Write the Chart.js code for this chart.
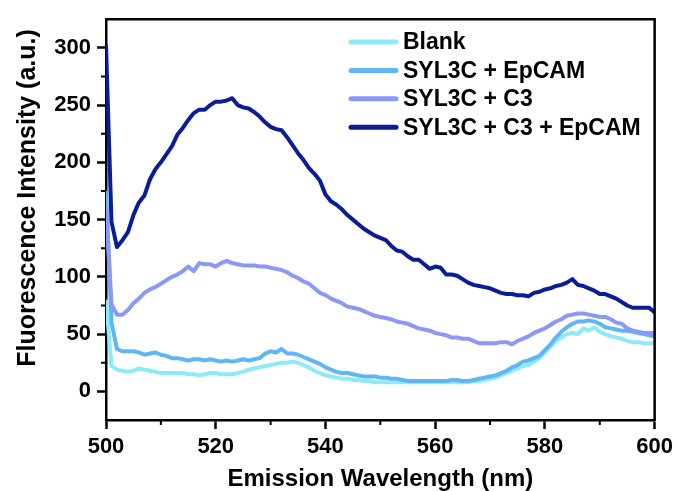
<!DOCTYPE html>
<html><head><meta charset="utf-8">
<script src="https://cdn.jsdelivr.net/npm/chart.js@4"></script>
<style>html,body{margin:0;padding:0;background:#fff}#wrap{width:678px;height:491px}</style>
</head><body><div id="wrap"><canvas id="c" width="678" height="491"></canvas></div>
<script>
const wavelengths = [500,501,502,503,504,505,506,507,508,509,510,511,512,513,514,515,516,517,518,519,520,521,522,523,524,525,526,527,528,529,530,531,532,533,534,535,536,537,538,539,540,541,542,543,544,545,546,547,548,549,550,551,552,553,554,555,556,557,558,559,560,561,562,563,564,565,566,567,568,569,570,571,572,573,574,575,576,577,578,579,580,581,582,583,584,585,586,587,588,589,590,591,592,593,594,595,596,597,598,599,600];
const blank = [80,22,19,18,17,18,20,19,18,17,16,16,16,16,16,15,15,14,15,16,16,15,15,15,16,17,19,20,21,22,23,24,25,25,26,25,23,21,18,16,14,13,12,11,11,10,10,9,9,8,8,8,8,8,8,8,8,8,8,8,8,8,8,8,8,8,8,9,9,10,11,12,14,16,18,20,22,23,26,29,34,39,44,47,50,51,50,55,53,56,52,50,48,47,46,44,43,43,42,42,42];
const syl3cEpcam = [175,60,37,35,35,35,34,32,33,34,32,31,29,29,28,27,28,28,27,28,27,26,27,26,27,28,27,28,29,33,35,34,37,33,33,32,30,28,26,24,21,19,17,16,16,15,14,13,13,13,12,12,11,11,10,9,9,9,9,9,9,9,9,10,10,9,9,10,11,12,13,14,16,18,21,23,26,27,29,31,36,41,47,52,56,59,61,61,62,61,59,56,55,54,53,53,52,51,50,49,48];
const syl3cC3 = [165,76,67,67,71,77,81,86,89,91,94,97,100,102,105,109,105,112,111,111,109,112,114,112,111,110,110,110,109,109,108,107,106,104,101,99,96,94,90,86,84,81,79,77,74,73,72,70,68,66,65,64,63,61,60,59,57,55,54,53,51,50,49,47,47,46,46,44,42,42,42,42,43,43,41,44,46,48,51,53,55,58,61,63,66,67,68,68,67,66,65,65,63,60,59,55,53,52,51,51,51];
const syl3cC3Epcam = [303,148,126,132,139,154,165,171,185,194,200,207,214,224,230,237,243,246,246,250,253,253,254,256,250,248,247,244,240,235,231,229,228,222,215,208,202,195,190,184,172,166,163,159,154,150,146,142,139,136,134,132,127,123,122,118,115,115,111,107,109,108,102,102,101,98,95,93,92,91,90,88,86,85,85,84,84,83,86,87,89,90,92,93,95,98,93,92,90,88,85,85,83,81,78,75,73,73,73,73,69];
const seriesNames = ['Blank','SYL3C + EpCAM','SYL3C + C3','SYL3C + C3 + EpCAM'];
const seriesColors = ['#8EE9FA','#5EB6F4','#8B98F6','#0B1C99'];
const xMajorTicks = [500,520,540,560,580,600];
const xMinorTicks = [510,530,550,570,590];
const yMajorTicks = [0,50,100,150,200,250,300];
const yMinorTicks = [25,75,125,175,225,275];
const xTitle = 'Emission Wavelength (nm)';
const yTitle = 'Fluorescence Intensity (a.u.)';

const FONT = '"Liberation Sans", Arial, sans-serif';
const allSeries = [blank, syl3cEpcam, syl3cC3, syl3cC3Epcam];
const datasets = allSeries.map((s, i) => ({
  label: seriesNames[i],
  data: s.map((v, j) => ({x: wavelengths[j], y: v})),
  borderColor: seriesColors[i],
  backgroundColor: seriesColors[i],
  borderWidth: 4,
  pointRadius: 0,
  tension: 0,
  fill: false,
  borderJoinStyle: 'round',
  order: 3 - i
}));

const decor = {
  id: 'decor',
  afterDraw(chart) {
    const {ctx, chartArea: a, scales: {x, y}} = chart;
    ctx.save();
    ctx.strokeStyle = '#000';
    ctx.lineWidth = 2.5;
    ctx.beginPath();
    ctx.moveTo(a.left - 1, a.top);
    ctx.lineTo(a.right, a.top);
    ctx.lineTo(a.right, a.bottom + 1);
    ctx.stroke();
    ctx.lineWidth = 2;
    ctx.beginPath();
    xMinorTicks.forEach(v => { const p = x.getPixelForValue(v); ctx.moveTo(p, a.bottom); ctx.lineTo(p, a.bottom + 5); });
    yMinorTicks.forEach(v => { const p = y.getPixelForValue(v); ctx.moveTo(a.left, p); ctx.lineTo(a.left - 5, p); });
    ctx.stroke();
    // legend
    ctx.font = 'bold 23px ' + FONT;
    ctx.textBaseline = 'middle';
    ctx.textAlign = 'left';
    ctx.lineCap = 'round';
    seriesNames.forEach((n, i) => {
      const ly = 42 + i * 28.4;
      ctx.strokeStyle = seriesColors[i];
      ctx.lineWidth = 5;
      ctx.beginPath(); ctx.moveTo(351, ly); ctx.lineTo(396, ly); ctx.stroke();
      ctx.fillStyle = '#000';
      ctx.fillText(n, 403, ly + 1);
    });
    // y title
    ctx.translate(28, 198);
    ctx.rotate(-Math.PI / 2);
    ctx.font = 'bold 25px ' + FONT;
    ctx.textAlign = 'center';
    ctx.fillStyle = '#000';
    ctx.fillText(yTitle, 0, 0);
    ctx.restore();
  }
};

new Chart(document.getElementById('c'), {
  type: 'line',
  data: {datasets},
  options: {
    responsive: false,
    animation: false,
    devicePixelRatio: 1,
    layout: {padding: {left: 15, right: 22, top: 15, bottom: 0}},
    plugins: {legend: {display: false}, tooltip: {enabled: false}},
    scales: {
      x: {
        type: 'linear', min: 500, max: 600,
        afterBuildTicks: s => { s.ticks = xMajorTicks.map(v => ({value: v})); },
        afterFit: s => { s.height = 71; },
        grid: {drawOnChartArea: false, drawTicks: true, tickLength: 9, tickWidth: 2.5, tickColor: '#000'},
        border: {display: true, color: '#000', width: 2.5},
        ticks: {color: '#000', padding: 5, font: {family: FONT, size: 22, weight: 'bold'}, maxRotation: 0, autoSkip: false},
        title: {display: true, text: xTitle, color: '#000', padding: 0, font: {family: FONT, size: 24, weight: 'bold', lineHeight: 1}}
      },
      y: {
        type: 'linear', min: -25, max: 325,
        afterBuildTicks: s => { s.ticks = yMajorTicks.map(v => ({value: v})); },
        afterFit: s => { s.width = 91; },
        grid: {drawOnChartArea: false, drawTicks: true, tickLength: 9, tickWidth: 2.5, tickColor: '#000'},
        border: {display: true, color: '#000', width: 2.5},
        ticks: {color: '#000', padding: 6, font: {family: FONT, size: 22, weight: 'bold'}, autoSkip: false},
        title: {display: false, text: yTitle}
      }
    }
  },
  plugins: [decor]
});
</script>
</body></html>
